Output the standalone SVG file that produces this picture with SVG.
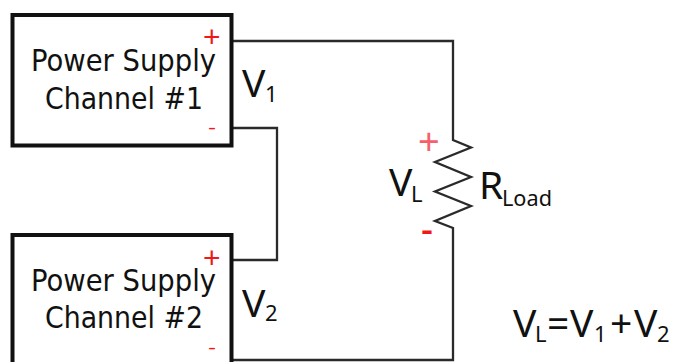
<svg xmlns="http://www.w3.org/2000/svg" width="673" height="362" viewBox="0 0 673 362">
<style>
.box{fill:#fff;stroke:#111;stroke-width:4}
.wire{fill:none;stroke:#2a2a2a;stroke-width:2.3;stroke-linejoin:miter}
text{font-family:"DejaVu Sans",Verdana,sans-serif;fill:#111}
.lbl{font-size:30px}
.m{font-family:"Noto Sans","DejaVu Sans",sans-serif;font-size:39px}
.s{font-size:22px}
.red{fill:#f01818;font-family:"Liberation Sans",Arial,sans-serif}
</style>
<rect width="673" height="362" fill="#fff"/>
<g id="connectors">
<path class="wire" d="M233 41H453V140L471 147.500 435 162 471 177 435 191.500 471 206 435 221 453 228V360H233"/>
<path class="wire" d="M233 128H277V260H233"/>
</g>
<g id="channel1">
<rect class="box" x="12.500" y="15" width="219" height="130.500"/>
<text class="lbl" x="31" y="71" textLength="185" lengthAdjust="spacingAndGlyphs">Power Supply</text>
<text class="lbl" x="45" y="109" textLength="158" lengthAdjust="spacingAndGlyphs">Channel #1</text>
<text class="red" x="203" y="47" font-size="30">+</text>
<text class="red" x="208" y="134" font-size="18" textLength="8" lengthAdjust="spacingAndGlyphs">-</text>
</g>
<g id="channel2">
<rect class="box" x="12.500" y="235" width="219" height="132"/>
<text class="lbl" x="31" y="291" textLength="185" lengthAdjust="spacingAndGlyphs">Power Supply</text>
<text class="lbl" x="45" y="328" textLength="158" lengthAdjust="spacingAndGlyphs">Channel #2</text>
<text class="red" x="203" y="268" font-size="30">+</text>
<text class="red" x="208" y="354" font-size="18" textLength="8" lengthAdjust="spacingAndGlyphs">-</text>
</g>
<g id="v1"><text class="m" x="242" y="97">V<tspan class="s" x="265" y="102">1</tspan></text></g>
<g id="v2"><text class="m" x="242" y="317">V<tspan class="s" x="265" y="321">2</tspan></text></g>
<g id="load">
<text class="red" x="418" y="154" font-size="37" style="fill:#f5606a">+</text>
<text class="m" x="389" y="196">V<tspan class="s" x="411" y="202">L</tspan></text>
<text class="m" x="479" y="199">R<tspan class="s" x="502" y="206" textLength="50" lengthAdjust="spacingAndGlyphs">Load</tspan></text>
<text class="red" x="421" y="240" font-size="30" font-weight="bold" textLength="12" lengthAdjust="spacingAndGlyphs">-</text>
</g>
<g id="equation">
<text class="m" x="513" y="337">V<tspan class="s" x="535" y="342">L</tspan><tspan x="547" y="337">=</tspan><tspan x="570" y="337">V</tspan><tspan class="s" x="594" y="342">1</tspan><tspan x="610" y="337">+</tspan><tspan x="634" y="337">V</tspan><tspan class="s" x="657" y="342">2</tspan></text>
</g>
</svg>
